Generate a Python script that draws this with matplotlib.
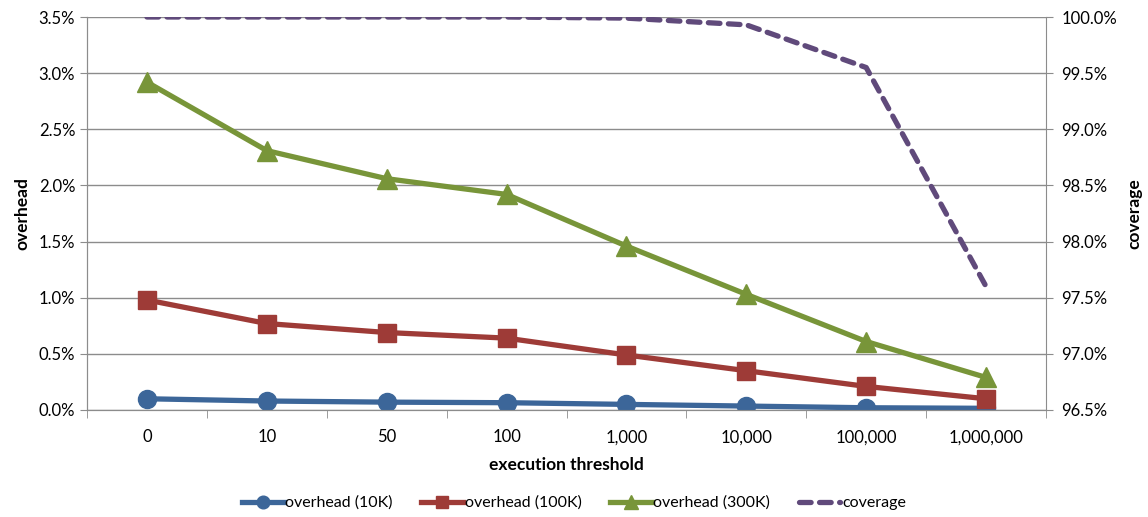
import matplotlib.pyplot as plt
from matplotlib.ticker import FuncFormatter, FixedLocator

plt.rcParams['font.family'] = ['Lato', 'DejaVu Sans']

thresholds = ["0", "10", "50", "100", "1,000", "10,000", "100,000", "1,000,000"]
overhead_10k = [0.10, 0.08, 0.07, 0.065, 0.05, 0.035, 0.02, 0.015]
overhead_100k = [0.98, 0.77, 0.69, 0.64, 0.49, 0.35, 0.21, 0.10]
overhead_300k = [2.92, 2.31, 2.06, 1.92, 1.46, 1.03, 0.61, 0.29]
coverage = [100.0, 100.0, 100.0, 100.0, 99.99, 99.93, 99.55, 97.60]

x = list(range(len(thresholds)))

fig = plt.figure(figsize=(11.48, 5.17), dpi=100)
ax = fig.add_axes([87 / 1148, 107 / 517, 959 / 1148, 393 / 517])
ax2 = ax.twinx()

grid_c = "#8c8c8c"
lw = 3.8

ax.plot(x, overhead_10k, color="#3C6699", lw=lw, marker="o", ms=13, label="overhead (10K)", zorder=3)
ax.plot(x, overhead_100k, color="#9E3B37", lw=lw, marker="s", ms=12.5, label="overhead (100K)", zorder=3)
ax.plot(x, overhead_300k, color="#789539", lw=lw, marker="^", ms=14, label="overhead (300K)", zorder=3)
ax2.plot(x, coverage, color="#604A7B", lw=lw, ls=(0, (2.2, 1.6)), dash_capstyle="round",
         label="coverage")

ax.set_xlim(-0.5, len(x) - 0.5)
ax.set_ylim(0, 3.5)
ax2.set_ylim(96.5, 100.0)
ax.set_yticks([i * 0.5 for i in range(8)])
ax2.set_yticks([96.5 + i * 0.5 for i in range(8)])
ax.yaxis.set_major_formatter(FuncFormatter(lambda v, p: f"{v:.1f}%"))
ax2.yaxis.set_major_formatter(FuncFormatter(lambda v, p: f"{v:.1f}%"))

ax.set_xticks(x)
ax.set_xticklabels(thresholds)
ax.xaxis.set_minor_locator(FixedLocator([i - 0.5 for i in range(len(x) + 1)]))
ax.tick_params(axis="x", which="major", length=0, pad=14, labelsize=12)
ax.tick_params(axis="x", which="minor", length=6, color=grid_c, direction="out")
ax.tick_params(axis="y", length=5, color=grid_c, labelsize=12)
ax2.tick_params(axis="y", length=5, color=grid_c, labelsize=12, pad=6)

ax.grid(axis="y", color=grid_c, lw=1)
ax.set_axisbelow(True)
for a in (ax, ax2):
    a.spines["top"].set_visible(False)
    for s in ("left", "right", "bottom"):
        a.spines[s].set_color(grid_c)
ax.spines["right"].set_visible(False)

ax.set_xlabel("execution threshold", fontsize=12.5, fontweight="bold", labelpad=8)
ax.set_ylabel("overhead", fontsize=12.5, fontweight="bold", labelpad=6)
ax2.set_ylabel("coverage", fontsize=12.5, fontweight="bold", labelpad=7)

h1, l1 = ax.get_legend_handles_labels()
h2, l2 = ax2.get_legend_handles_labels()
fig.legend(h1 + h2, l1 + l2, loc="center", bbox_to_anchor=(0.5, 14 / 517), ncol=4,
           frameon=False, fontsize=11.5, handlelength=2.6, handletextpad=0.1,
           columnspacing=1.8, markerscale=0.7)

fig.savefig("out.png", dpi=100)
